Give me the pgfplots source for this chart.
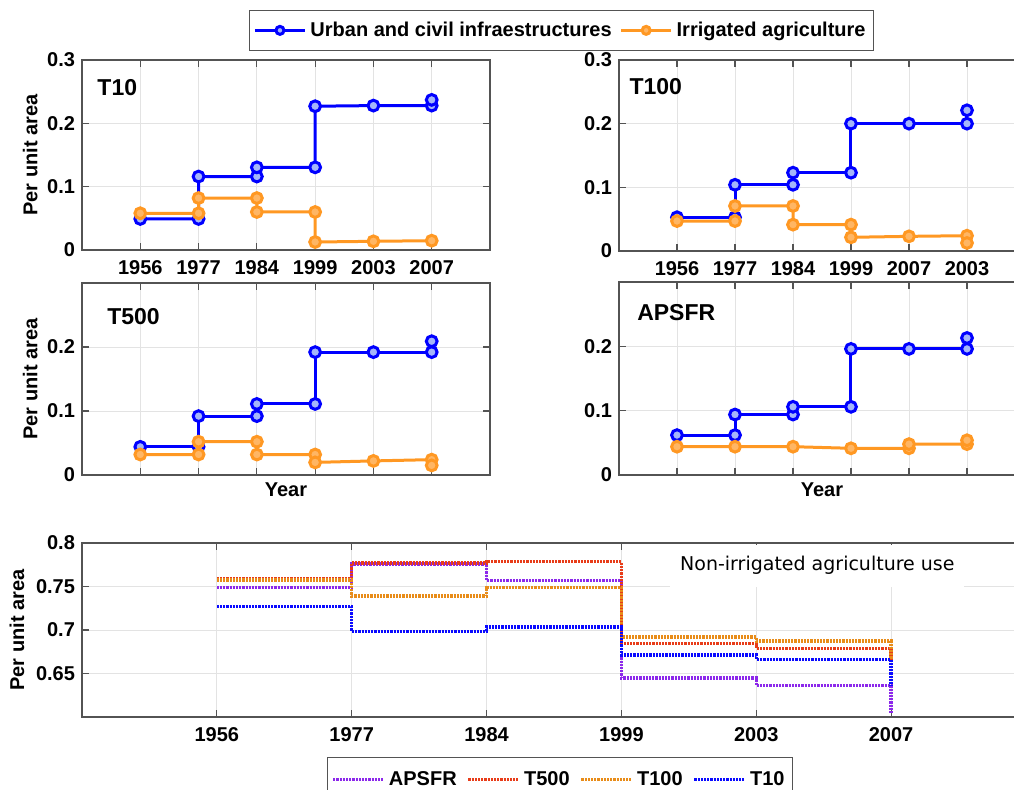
\documentclass[border=0pt]{standalone}
\usepackage{pgfplots}
\pgfplotsset{compat=1.18}
\usepackage{fontspec}
\setmainfont{Liberation Sans}
\newfontfamily\djv{DejaVu Sans}
\definecolor{ublue}{RGB}{0,0,255}
\definecolor{ubluefill}{RGB}{165,182,250}
\definecolor{iorange}{RGB}{255,152,35}
\definecolor{iorangefill}{RGB}{255,182,100}
\definecolor{cA}{RGB}{140,40,235}
\definecolor{cTf}{RGB}{232,60,25}
\definecolor{cTh}{RGB}{232,140,25}
\definecolor{cTt}{RGB}{10,10,255}
\newcommand\lbl{\fontsize{10}{12}\selectfont\bfseries}
\tikzset{panellabel/.style={anchor=west, inner sep=0pt, font=\fontsize{11.5}{14}\selectfont\bfseries}}
\pgfplotsset{
  base/.style={scale only axis, xmin=0, xmax=7, xtick={1,...,6},
    grid=major, major grid style={gray!22, line width=0.4pt},
    axis line style={gray!65!black, line width=0.6pt},
    tick style={gray!65!black, line width=0.6pt},
    major tick length=3.5pt, tick align=inside,
    ticklabel style={font=\lbl},
    xticklabel style={yshift=-1.5pt},
    /pgf/number format/assume math mode=true,
    /pgf/number format/fixed,
    label style={font=\lbl},
  },
  urban/.style={ublue, line width=1.5pt, mark=*, mark size=2.7pt,
    mark options={fill=ubluefill, draw=ublue, line width=1.5pt}},
  irrig/.style={iorange, line width=1.5pt, mark=*, mark size=2.7pt,
    mark options={fill=iorangefill, draw=iorange, line width=1.5pt}},
  stepl/.style={const plot, line width=1.7pt, dash pattern=on 1.1pt off 0.5pt, no marks},
  ylab/.style={ylabel style={at={(axis description cs:#1,0.5)}, anchor=center, rotate=0}},
  xlab/.style={xlabel style={at={(axis description cs:0.5,-0.078)}, anchor=center}},
}
\begin{document}
\begin{tikzpicture}
\useasboundingbox (0,0) rectangle (507pt,-395pt);
\clip (0,0) rectangle (507pt,-395pt);

% ---------------- T10
\begin{axis}[base, at={(41pt,-30pt)}, anchor=north west, width=204pt, height=95pt,
  ymin=0, ymax=0.3, ytick={0,0.1,0.2,0.3},
  xticklabels={1956,1977,1984,1999,2003,2007},
  ylabel={Per unit area}, ylab=-0.127,
  legend columns=2,
  legend style={at={(axis description cs:0.409,1.263)}, anchor=north west,
    font=\lbl, draw=gray!65!black, line width=0.6pt, inner xsep=2pt, inner ysep=3.5pt,
    /tikz/every even column/.append style={column sep=2pt}},
  legend cell align=left]
\addplot[urban, legend image code/.code={\draw[mark repeat=2, mark phase=2, mark size=2pt] plot coordinates {(0pt,0pt) (12.5pt,0pt) (25pt,0pt)};}] coordinates {
  (1,0.049) (2,0.049) (2,0.116) (3,0.116) (3,0.1305) (4,0.1305) (4,0.227) (5,0.228) (6,0.228) (6,0.237)};
\addlegendentry{Urban and civil infraestructures}
\addplot[irrig, legend image code/.code={\draw[mark repeat=2, mark phase=2, mark size=2pt] plot coordinates {(0pt,0pt) (12.5pt,0pt) (25pt,0pt)};}] coordinates {
  (1,0.058) (2,0.058) (2,0.082) (3,0.082) (3,0.060) (4,0.060) (4,0.0126) (5,0.0137) (6,0.0147)};
\addlegendentry{Irrigated agriculture}
\node[panellabel] at (rel axis cs:0.037,0.853) {T10};
\end{axis}

% ---------------- T100
\begin{axis}[base, at={(309.5pt,-30pt)}, anchor=north west, width=203pt, height=95.5pt,
  ymin=0, ymax=0.3, ytick={0,0.1,0.2,0.3},
  xticklabels={1956,1977,1984,1999,2007,2003}]
\addplot[urban] coordinates {
  (1,0.053) (2,0.053) (2,0.104) (3,0.104) (3,0.123) (4,0.123) (4,0.200) (5,0.200) (6,0.200) (6,0.221)};
\addplot[irrig] coordinates {
  (1,0.047) (2,0.047) (2,0.0707) (3,0.0707) (3,0.0414) (4,0.0414) (4,0.0215) (5,0.023) (6,0.024) (6,0.0126)};
\node[panellabel] at (rel axis cs:0.025,0.86) {T100};
\end{axis}

% ---------------- T500
\begin{axis}[base, at={(41pt,-141.5pt)}, anchor=north west, width=204pt, height=96pt,
  ymin=0, ymax=0.3, ytick={0,0.1,0.2},
  xticklabels={}, xlabel={Year}, xlab,
  ylabel={Per unit area}, ylab=-0.127]
\addplot[urban] coordinates {
  (1,0.044) (2,0.044) (2,0.092) (3,0.092) (3,0.111) (4,0.111) (4,0.192) (5,0.192) (6,0.192) (6,0.209)};
\addplot[irrig] coordinates {
  (1,0.032) (2,0.032) (2,0.052) (3,0.052) (3,0.032) (4,0.032) (4,0.0197) (5,0.022) (6,0.024) (6,0.015)};
\node[panellabel] at (rel axis cs:0.061,0.823) {T500};
\end{axis}

% ---------------- APSFR
\begin{axis}[base, at={(309.5pt,-141pt)}, anchor=north west, width=203pt, height=96.5pt,
  ymin=0, ymax=0.3, ytick={0,0.1,0.2},
  xticklabels={}, xlabel={Year}, xlab]
\addplot[urban] coordinates {
  (1,0.062) (2,0.062) (2,0.094) (3,0.094) (3,0.106) (4,0.106) (4,0.196) (5,0.196) (6,0.196) (6,0.213)};
\addplot[irrig] coordinates {
  (1,0.044) (2,0.044) (3,0.044) (4,0.0415) (5,0.0415) (5,0.048) (6,0.048) (6,0.054)};
\node[panellabel] at (rel axis cs:0.044,0.84) {APSFR};
\end{axis}

% ---------------- Bottom: non-irrigated
\begin{axis}[base, at={(41pt,-271.5pt)}, anchor=north west, width=472pt, height=87pt,
  ymin=0.6, ymax=0.8, ytick={0.65,0.7,0.75,0.8},
  xticklabels={1956,1977,1984,1999,2003,2007},
  ylabel={Per unit area}, ylab=-0.069,
  legend columns=4,
  legend style={at={(axis description cs:0.2595,-0.23)}, anchor=north west,
    font=\lbl, draw=gray!65!black, line width=0.6pt, inner xsep=2pt, inner ysep=4.8pt,
    /tikz/every even column/.append style={column sep=3pt}},
  legend image code/.code={\draw[#1] (0pt,0pt) -- (25pt,0pt);}]
\addplot[stepl, cA] coordinates {(1,0.749) (2,0.776) (3,0.757) (4,0.645) (5,0.6363) (6,0.604)};
\addlegendentry{APSFR}
\addplot[stepl, cTf] coordinates {(1,0.759) (2,0.7768) (3,0.7784) (4,0.6842) (5,0.679) (6,0.665)};
\addlegendentry{T500}
\addplot[stepl, cTh] coordinates {(1,0.7575) (2,0.739) (3,0.749) (4,0.692) (5,0.6873) (6,0.666)};
\addlegendentry{T100}
\addplot[stepl, cTt] coordinates {(1,0.727) (2,0.6985) (3,0.7035) (4,0.6714) (5,0.6664) (6,0.636)};
\addlegendentry{T10}
\node[fill=white, inner sep=0pt, minimum width=147pt, minimum height=21pt,
  font=\djv\fontsize{9.5}{11}\selectfont] at (axis description cs:0.779,0.87) {Non-irrigated agriculture use};
\end{axis}
\end{tikzpicture}
\end{document}
